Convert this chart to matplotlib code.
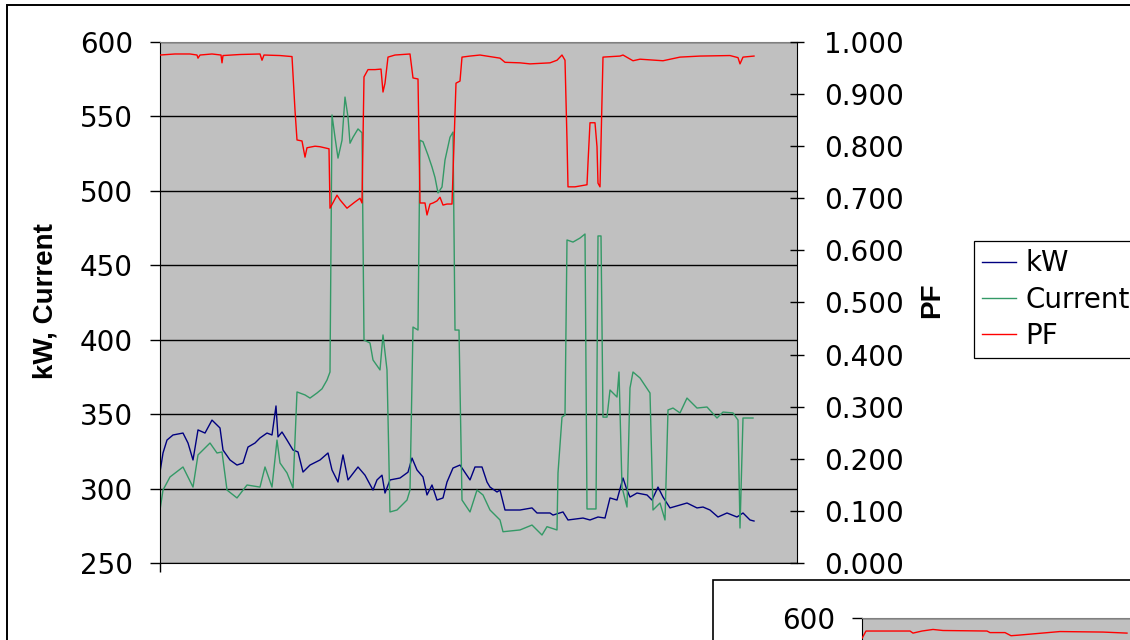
import matplotlib.pyplot as plt
from matplotlib.patches import Rectangle
from matplotlib.ticker import MultipleLocator, FormatStrFormatter

# ── data (sample index, value) ────────────────────────────────────────
KW = [(0, 311.0), (3, 323.9), (7, 332.6), (13, 336.0), (23, 337.3),
      (28, 330.6), (33, 319.2), (38, 339.4), (45, 337.3), (52, 346.0),
      (60, 340.7), (63, 325.9), (70, 319.2), (77, 315.8), (83, 317.2),
      (88, 327.9), (95, 330.6), (100, 334.0), (107, 337.3), (112, 336.0),
      (116, 355.5), (118, 334.7), (122, 338.0), (127, 332.6), (133, 325.9),
      (138, 324.6), (143, 311.1), (150, 315.8), (160, 319.2), (168, 323.9),
      (172, 312.5), (178, 304.4), (183, 322.6), (188, 305.8), (198, 314.5),
      (205, 309.0), (213, 299.0), (217, 305.8), (222, 309.0), (225, 297.0),
      (230, 305.8), (240, 307.1), (248, 311.0), (252, 320.5), (257, 312.5),
      (263, 307.8), (267, 295.7), (272, 302.4), (277, 292.3), (283, 293.7),
      (287, 304.4), (293, 313.8), (300, 315.8), (310, 305.8), (315, 314.5),
      (322, 314.5), (327, 304.4), (330, 301.0), (337, 297.7), (340, 299.0),
      (345, 285.6), (360, 285.6), (372, 287.0), (377, 283.6), (390, 283.6),
      (393, 282.2), (403, 284.3), (408, 278.9), (423, 280.2), (430, 278.9),
      (438, 280.9), (445, 280.2), (450, 293.7), (457, 292.3), (463, 307.1),
      (467, 299.0), (470, 294.3), (477, 297.0), (487, 295.7), (492, 292.3),
      (498, 301.0), (503, 294.3), (510, 287.0), (527, 290.3), (537, 287.0),
      (543, 287.6), (550, 285.6), (558, 280.9), (567, 283.6), (577, 280.9),
      (583, 283.6), (590, 278.9), (594, 278.2)]

CURRENT = [(0, 285.6), (3, 299.0), (10, 307.8), (23, 314.5), (33, 301.0),
           (38, 322.6), (50, 330.6), (57, 323.9), (62, 324.6), (67, 299.0),
           (77, 293.7), (87, 302.4), (100, 301.0), (105, 314.5),
           (112, 301.0), (117, 332.6), (120, 317.2), (127, 310.5),
           (133, 300.4), (137, 364.9), (145, 362.9), (150, 360.8),
           (157, 364.2), (162, 367.0), (167, 372.9), (170, 378.3),
           (172, 551.0), (175, 536.0), (178, 522.0), (182, 534.0),
           (185, 563.0), (188, 549.6), (190, 532.0), (193, 536.0),
           (198, 541.6), (202, 539.0), (204, 399.8), (210, 397.8),
           (213, 386.4), (220, 379.7), (223, 403.2), (227, 379.7),
           (230, 284.3), (237, 285.6), (247, 292.3), (250, 299.0),
           (253, 408.5), (258, 406.5), (260, 534.0), (263, 533.0),
           (268, 524.0), (272, 516.0), (275, 509.0), (278, 498.6),
           (282, 502.6), (285, 520.7), (290, 536.0), (293, 539.5),
           (295, 406.5), (299, 406.5), (302, 292.3), (310, 284.3),
           (317, 299.0), (323, 295.7), (330, 285.6), (340, 278.9),
           (343, 271.0), (360, 272.2), (372, 275.5), (382, 268.8),
           (387, 274.4), (397, 272.2), (398, 310.5), (402, 348.0),
           (405, 349.4), (407, 467.0), (413, 465.6), (420, 468.3),
           (425, 471.0), (427, 286.3), (436, 286.3), (438, 469.7),
           (441, 469.7), (443, 348.0), (447, 348.0), (450, 366.2),
           (457, 361.5), (459, 378.3), (462, 301.0), (467, 287.6),
           (470, 367.6), (473, 378.3), (480, 374.3), (490, 364.2),
           (493, 285.6), (500, 290.3), (505, 278.9), (508, 352.8),
           (513, 354.1), (520, 350.8), (527, 360.8), (537, 354.1),
           (547, 354.8), (557, 347.4), (563, 351.4), (573, 350.8),
           (578, 346.0), (580, 273.5), (583, 347.4), (593, 347.4)]

PF = [(0, 0.975), (15, 0.977), (30, 0.977), (37, 0.975), (38, 0.969),
      (40, 0.975), (52, 0.977), (61, 0.975), (62, 0.960), (63, 0.974),
      (80, 0.976), (100, 0.977), (102, 0.965), (104, 0.975), (120, 0.974),
      (132, 0.972), (135, 0.869), (137, 0.812), (142, 0.810), (145, 0.779),
      (147, 0.797), (155, 0.800), (160, 0.799), (169, 0.795), (170, 0.681),
      (177, 0.706), (180, 0.697), (187, 0.681), (195, 0.693), (200, 0.700),
      (202, 0.691), (204, 0.933), (208, 0.947), (215, 0.947), (221, 0.948),
      (223, 0.904), (225, 0.921), (228, 0.971), (235, 0.975), (250, 0.977),
      (253, 0.931), (258, 0.929), (260, 0.691), (265, 0.691), (267, 0.668),
      (270, 0.689), (273, 0.691), (277, 0.695), (280, 0.702), (283, 0.687),
      (287, 0.689), (292, 0.689), (296, 0.921), (300, 0.925), (302, 0.971),
      (310, 0.973), (320, 0.975), (340, 0.969), (345, 0.961), (360, 0.960),
      (370, 0.958), (380, 0.959), (390, 0.960), (397, 0.965), (402, 0.975),
      (405, 0.965), (407, 0.812), (408, 0.722), (415, 0.722), (427, 0.726),
      (428, 0.768), (430, 0.845), (435, 0.845), (437, 0.799), (438, 0.729),
      (440, 0.722), (442, 0.889), (443, 0.971), (460, 0.973), (463, 0.975),
      (473, 0.964), (480, 0.967), (503, 0.964), (520, 0.971), (540, 0.973),
      (570, 0.974), (578, 0.970), (580, 0.958), (583, 0.971), (594, 0.973)]

# second (cut-off) chart below, only its PF line is visible
PF2 = [(0, 0.961), (4, 0.975), (16, 0.975), (48, 0.975), (51, 0.971),
       (60, 0.975), (71, 0.978), (81, 0.976), (125, 0.975), (128, 0.972),
       (143, 0.972), (149, 0.966), (156, 0.967), (198, 0.974), (241, 0.973),
       (265, 0.971)]

C_KW, C_CUR, C_PF = "#000080", "#339966", "#FF0000"
PLOT_BG = "#C0C0C0"
W, H = 1130, 640


def xy(pairs):
    return [p[0] for p in pairs], [p[1] for p in pairs]


def fig_box(x0, y0, x1, y1):
    """pixel box (top-left origin) -> figure fraction rect"""
    return [x0 / W, 1 - y1 / H, (x1 - x0) / W, (y1 - y0) / H]


plt.rcParams["font.family"] = "DejaVu Sans"
fig = plt.figure(figsize=(W / 100, H / 100), dpi=100)

# chart borders
fig.patches.append(Rectangle((7 / W, -0.2), 1.5, 1 - 5 / H + 0.2,
                             transform=fig.transFigure, facecolor="white",
                             edgecolor="black", lw=1.4, zorder=-1))
fig.patches.append(Rectangle((713 / W, -0.2), 1.0, 1 - 580 / H + 0.2,
                             transform=fig.transFigure, facecolor="white",
                             edgecolor="black", lw=1.2, zorder=0.5))


def style_axes(ax, ax2):
    ax.set_facecolor(PLOT_BG)
    ax.set_xlim(0, 637)
    ax.set_ylim(250, 600)
    ax.yaxis.set_major_locator(MultipleLocator(50))
    ax.grid(axis="y", color="black", lw=1)
    ax.tick_params(axis="y", direction="out", length=7.5, width=1,
                   pad=12, labelsize=20, colors="black")
    ax.set_xticks([0])
    ax.tick_params(axis="x", direction="out", length=6.5, width=1,
                   labelbottom=False)
    ax.spines["top"].set_color("#808080")
    ax.spines["right"].set_visible(False)
    ax2.set_ylim(0, 1)
    ax2.yaxis.set_major_locator(MultipleLocator(0.1))
    ax2.yaxis.set_major_formatter(FormatStrFormatter("%.3f"))
    ax2.tick_params(axis="y", direction="inout", length=9.5, width=1,
                    pad=15, labelsize=20)
    for s in ("left", "top", "bottom"):
        ax2.spines[s].set_visible(False)


# ── main chart ────────────────────────────────────────────────────────
ax = fig.add_axes(fig_box(160, 42, 797, 563))
ax2 = ax.twinx()
style_axes(ax, ax2)

l_kw, = ax.plot(*xy(KW), color=C_KW, lw=1.0, label="kW")
l_cur, = ax.plot(*xy(CURRENT), color=C_CUR, lw=1.0, label="Current")
l_pf, = ax2.plot(*xy(PF), color=C_PF, lw=1.0, label="PF")

fig.text(46 / W, 1 - 301 / H, "kW, Current", rotation=90, ha="center",
         va="center", fontsize=20, fontweight="bold",
         fontfamily="Liberation Sans")
fig.text(932 / W, 1 - 300 / H, "PF", rotation=90, ha="center",
         va="center", fontsize=20, fontweight="bold",
         fontfamily="Liberation Sans")

leg = ax2.legend([l_kw, l_cur, l_pf], ["kW", "Current", "PF"],
                 loc="upper left", bbox_to_anchor=(974 / W, 1 - 241 / H),
                 bbox_transform=fig.transFigure, borderaxespad=0,
                 fontsize=20, frameon=True, fancybox=False,
                 edgecolor="black", framealpha=1, borderpad=0.3,
                 handlelength=1.22, handletextpad=0.32, labelspacing=0.3)
leg.get_frame().set_linewidth(0.9)

# ── second chart (cut off by the image edge) ──────────────────────────
c2 = fig.add_axes(fig_box(862, 618, 862 + 637, 618 + 521))
c2.set_zorder(1)
c2b = c2.twinx()
c2b.set_zorder(1.1)
c2b.patch.set_visible(False)
style_axes(c2, c2b)
# only the top of this chart is inside the picture
c2.set_yticks([600])
c2.set_xticks([])
c2b.tick_params(axis="y", labelright=False, right=False)
c2b.plot(*xy(PF2), color=C_PF, lw=1.0)

fig.savefig("out.png", dpi=100)
